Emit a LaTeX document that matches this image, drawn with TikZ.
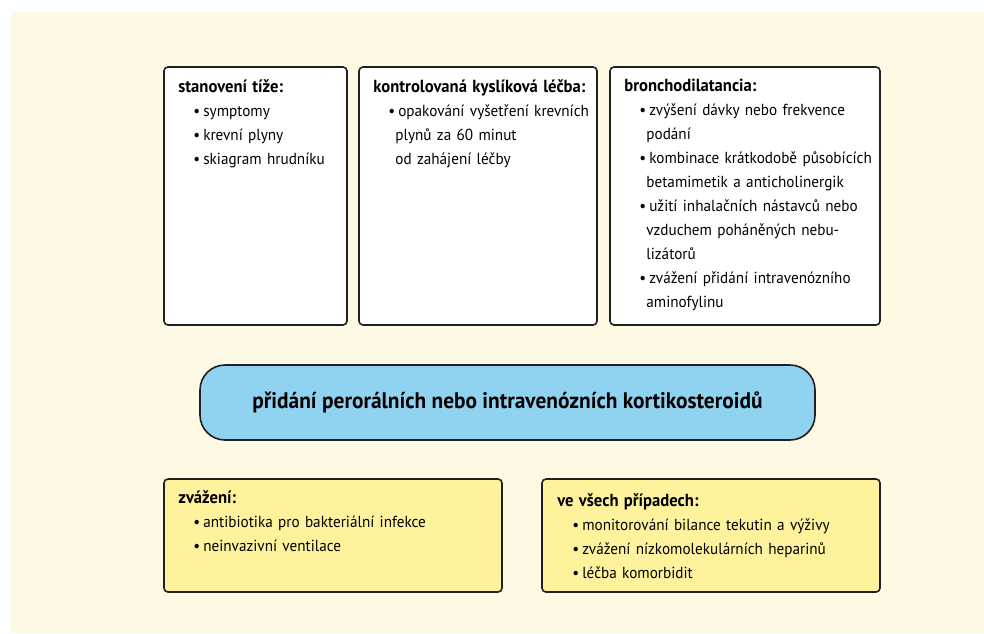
\documentclass[tikz,border=0pt]{standalone}
\usepackage{fontspec}
\setmainfont{PT Sans}[FakeStretch=0.95]
\usetikzlibrary{positioning}

\definecolor{krem}{HTML}{FEF9E4}
\definecolor{modra}{HTML}{8FD3F1}
\definecolor{zluta}{HTML}{FFF29C}
\definecolor{ramec}{HTML}{231F20}

\newcommand{\bod}[1]{\par\hangindent=22pt\hangafter=1\hspace*{15pt}\textbullet\hspace{3pt}#1\par}
\newcommand{\nadpis}[1]{{\fontsize{17.5}{24}\selectfont\bfseries #1}}

\tikzset{
  box/.style={draw=ramec, line width=1.6pt, rounded corners=4pt, fill=white},
  zlutybox/.style={box, fill=zluta},
  popis/.style={anchor=north west, inner sep=0pt, font=\fontsize{16}{24}\selectfont\raggedright}
}

\begin{document}
\begin{tikzpicture}[x=1pt,y=-1pt]
        \useasboundingbox (0,0) rectangle (984,633);
        \fill[krem] (11,12) rectangle (984,633);

        % horni rada
        \node[box, minimum width=183pt, minimum height=258pt] (tize) at (255.5,196) {};
        \node[box, minimum width=238pt, minimum height=258pt] (kyslik) at (478,196) {};
        \node[box, minimum width=270pt, minimum height=258pt] (broncho) at (745,196) {};

        \node[popis, text width=175pt] (tizetext) at ([xshift=15pt,yshift=-13pt]tize.north west)
          {\nadpis{stanovení tíže:}\bod{symptomy}\bod{krevní plyny}\bod{skiagram hrudníku}};
        \node[popis, text width=235pt] (kyslikt) at ([xshift=15pt,yshift=-13pt]kyslik.north west)
          {\nadpis{kontrolovaná kyslíková léčba:}\bod{opakování vyšetření krevních\newline plynů za 60 minut\newline od zahájení léčby}};
        \node[popis, text width=265pt] (bronchot) at ([xshift=15pt,yshift=-13pt]broncho.north west)
          {\nadpis{bronchodilatancia:}%
           \bod{zvýšení dávky nebo frekvence\newline podání}%
           \bod{kombinace krátkodobě působících\newline betamimetik a anticholinergik}%
           \bod{užití inhalačních nástavců nebo\newline vzduchem poháněných nebu-\newline lizátorů}%
           \bod{zvážení přidání intravenózního\newline aminofylinu}};

        % kortikosteroidy
        \node[draw=ramec, line width=1.6pt, rounded corners=25pt, fill=modra,
              minimum width=615pt, minimum height=75pt,
              font=\fontsize{22.5}{24}\selectfont\bfseries] (kortiko) at (507.5,402.5)
          {přidání perorálních nebo intravenózních kortikosteroidů};

        % dolni rada
        \node[zlutybox, minimum width=338pt, minimum height=113pt] (zvazeni) at (333,535.5) {};
        \node[zlutybox, minimum width=338pt, minimum height=113pt] (vsech) at (711,535.5) {};

        \node[popis, text width=330pt] (zvazenit) at ([xshift=15pt,yshift=-12pt]zvazeni.north west)
          {\nadpis{zvážení:}\bod{antibiotika pro bakteriální infekce}\bod{neinvazivní ventilace}};
        \node[popis, text width=330pt] (vsecht) at ([xshift=16pt,yshift=-15pt]vsech.north west)
          {\nadpis{ve všech případech:}\bod{monitorování bilance tekutin a výživy}\bod{zvážení nízkomolekulárních heparinů}\bod{léčba komorbidit}};

        \end{tikzpicture}
\end{document}
